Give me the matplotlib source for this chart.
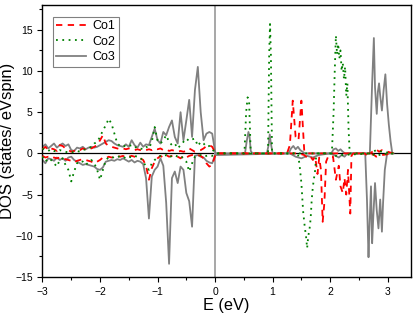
import numpy as np
import matplotlib
matplotlib.use("Agg")
import matplotlib.pyplot as plt
from matplotlib.ticker import MultipleLocator

plt.rcParams['font.family'] = ['Liberation Sans', 'DejaVu Sans']

# ---------------- data ----------------
# valence region grid (eV)
E_val = np.round(np.arange(-3.0, 0.0001, 0.05), 2)

co1_up_val = [0.5, 0.8, 0.4, 0.6, 0.5, 0.3, 1.0, 0.9, 0.6, 0.4, 0.2, 0.3, 0.5, 0.4, 0.6, 0.5,
              0.7, 0.6, 0.8, 1.0, 1.6, 2.2, 1.2, 0.9, 0.8, 0.7, 0.6, 0.5, 0.6, 0.5, 0.6, 0.5,
              0.4, 0.5, 0.4, 0.3, 0.4, 0.5, 0.4, 0.6, 0.5, 0.6, 0.4, 0.5, 0.3, 0.4, 0.3, 0.2,
              0.3, 0.2, 0.3, 0.6, 0.4, 0.2, 0.3, 0.4, 0.6, 0.9, 1.0, 0.8, 0.1]
co1_dn_val = [-0.3, -0.5, -0.4, -0.6, -0.5, -0.6, -0.5, -0.6, -0.7, -0.8, -0.9, -1.1, -0.9, -0.8,
              -0.7, -0.8, -0.9, -1.0, -1.2, -1.0, -0.8, -0.5, -0.6, -0.4, -0.5, -0.4, -0.3, -0.4,
              -0.3, -0.5, -0.4, -0.3, -0.4, -0.5, -0.6, -0.8, -1.5, -3.2, -1.8, -1.0, -0.6, -0.3,
              -0.5, -0.2, -0.4, -0.3, -0.2, -0.4, -0.6, -0.3, -0.5, -0.3, -0.2, -0.1, -0.2, -0.3,
              -0.6, -1.2, -1.6, -1.4, -0.3]
co2_up_val = [0.6, 0.4, 0.3, 0.5, 0.3, 0.2, 0.4, 0.3, 0.2, 0.1, 0.1, 0.2, 0.3, 0.2, 0.4, 0.5,
              0.6, 0.8, 1.2, 1.4, 2.0, 2.8, 3.4, 4.2, 3.6, 2.4, 1.2, 0.9, 1.0, 0.8, 0.9, 1.0,
              0.7, 0.8, 0.6, 0.5, 0.8, 0.6, 1.4, 3.2, 1.6, 1.2, 1.6, 2.2, 1.4, 1.0, 1.2, 0.6,
              1.0, 1.4, 1.8, 1.5, 1.7, 1.8, 0.9, 1.4, 1.2, 0.8, 0.9, 0.5, 0.1]
co2_dn_val = [-0.4, -1.0, -0.6, -0.8, -1.2, -1.6, -0.8, -0.6, -1.4, -2.0, -3.4, -2.2, -1.2, -0.9,
              -1.0, -1.4, -1.1, -0.8, -1.2, -2.0, -3.2, -2.0, -0.8, -0.5, -0.6, -0.4, -0.5, -0.3,
              -0.4, -0.6, -0.4, -0.5, -0.3, -0.4, -0.5, -1.0, -1.6, -2.0, -1.2, -0.8, -0.5, -0.3,
              -0.4, -0.2, -0.5, -0.3, -0.2, -0.4, -0.3, -0.6, -1.0, -2.2, -1.2, -0.4, -0.3, -0.2,
              -0.4, -0.3, -0.2, -0.3, -0.1]
co3_up_val = [0.8, 1.1, 0.6, 0.9, 1.2, 0.7, 1.0, 1.2, 0.9, 1.1, 0.4, 0.3, 0.7, 0.6, 0.8, 0.5,
              0.7, 0.8, 0.7, 0.8, 1.0, 1.2, 1.4, 1.6, 1.5, 1.2, 1.0, 0.9, 0.8, 1.1, 0.8, 1.6,
              1.0, 0.7, 1.3, 0.8, 1.1, 1.0, 2.0, 3.0, 1.6, 1.2, 2.6, 2.2, 3.2, 4.0, 2.0, 1.2,
              5.0, 1.6, 4.0, 6.5, 2.0, 7.7, 10.5, 5.0, 1.6, 2.4, 2.6, 2.4, 0.2]
co3_dn_val = [-0.8, -1.2, -0.6, -0.7, -0.9, -0.5, -0.8, -0.6, -0.9, -0.5, -0.4, -0.8, -1.0, -1.2,
              -1.4, -1.3, -1.4, -1.5, -1.6, -1.9, -2.0, -1.7, -1.0, -0.9, -0.8, -0.9, -0.7, -0.8,
              -0.6, -0.8, -1.0, -0.8, -1.1, -0.9, -1.0, -1.3, -3.0, -7.9, -2.8, -2.0, -1.6, -0.6,
              -1.5, -6.0, -13.4, -3.0, -2.2, -3.6, -1.6, -2.0, -4.8, -5.8, -8.9, -0.3, -0.2, -0.4,
              -0.5, -0.9, -1.1, -1.2, -0.2]

# conduction region (eV, DOS)
co1_up_E = [0.02, 0.5, 1.25, 1.30, 1.35, 1.40, 1.45, 1.50, 1.55, 1.60, 2.70, 2.75, 2.80, 2.85, 2.90, 3.10]
co1_up_c = [0, 0, 0, 1.0, 6.4, 2.0, 1.6, 6.4, 0.3, 0, 0, 0.3, 0.5, 0.2, 0.4, 0]
co1_dn_E = [0.02, 1.45, 1.55, 1.60, 1.65, 1.70, 1.74, 1.78, 1.81, 1.84, 1.87, 1.90, 1.93, 1.97,
            2.05, 2.10, 2.15, 2.18, 2.22, 2.25, 2.28, 2.31, 2.35, 2.37, 2.40, 2.60, 2.65, 2.75,
            2.80, 2.90, 3.10]
co1_dn_c = [0, 0, -0.2, -0.5, -0.3, -0.8, -0.4, -2.5, -0.5, -2.0, -8.3, -6.0, -1.0, -0.3,
            -0.4, -3.2, -1.5, -4.0, -4.8, -3.0, -5.0, -2.0, -7.3, -0.3, 0, 0, -0.3, -0.1,
            -0.4, -0.2, 0]
co2_up_E = [0.02, 0.51, 0.54, 0.565, 0.59, 0.62, 0.92, 0.94, 0.955, 0.97, 0.99,
            2.03, 2.06, 2.08, 2.10, 2.12, 2.14, 2.16, 2.18, 2.20, 2.22, 2.24, 2.26, 2.28,
            2.30, 2.32, 2.34, 2.70, 2.80, 2.90, 3.10]
co2_up_c = [0, 0, 5.0, 6.8, 6.5, 0, 0, 12.0, 15.7, 12.0, 0,
            0, 5.0, 10.0, 14.3, 12.0, 13.3, 11.5, 12.5, 10.0, 11.0, 9.0, 10.5, 7.0,
            8.5, 3.0, 0, 0, 0.4, 0.2, 0]
co2_dn_E = [0.02, 1.44, 1.47, 1.50, 1.53, 1.56, 1.58, 1.60, 1.62, 1.64, 1.66, 1.68, 1.70,
            1.72, 1.74, 1.76, 2.00, 2.10, 2.20, 2.70, 2.80, 2.90, 3.10]
co2_dn_c = [0, 0, -1.5, -3.6, -7.0, -9.0, -10.0, -11.5, -10.0, -9.3, -8.0, -5.6, -4.0,
            -3.0, -2.0, 0, 0, -0.3, -0.2, 0, -0.3, -0.1, 0]
co3_up_E = [0.02, 0.52, 0.55, 0.58, 0.60, 0.62, 0.65, 0.90, 0.93, 0.95, 0.97, 1.00,
            1.28, 1.32, 1.36, 1.40, 1.44, 1.48, 1.52, 1.56, 2.02, 2.06, 2.10, 2.14, 2.18,
            2.22, 2.26, 2.69, 2.73, 2.76, 2.78, 2.81, 2.83, 2.85, 2.87, 2.90, 2.93, 2.96,
            2.99, 3.02, 3.05, 3.08]
co3_up_c = [0, 0, 1.5, 2.6, 2.0, 0.3, 0, 0, 1.0, 2.3, 1.2, 0,
            0, 0.6, 0.9, 0.5, 0.8, 0.4, 0.2, 0, 0, 0.5, 0.6, 0.3, 0.5,
            0.2, 0, 0, 8.5, 14.0, 8.0, 4.8, 7.5, 8.5, 7.0, 5.2, 7.7, 9.6,
            6.0, 3.5, 1.5, 0]
co3_dn_E = [0.02, 1.30, 1.40, 1.50, 1.60, 1.70, 1.80, 2.00, 2.10, 2.15, 2.20, 2.25, 2.30,
            2.61, 2.64, 2.667, 2.68, 2.71, 2.73, 2.75, 2.78, 2.81, 2.84, 2.87, 2.90, 2.92,
            2.95, 2.99, 3.10]
co3_dn_c = [-0.2, 0, -0.4, -0.6, -0.3, -0.5, -0.2, 0, -0.3, -0.5, -0.2, -0.4, 0,
            0, -5.6, -12.6, -9.7, -4.0, -10.9, -7.7, -3.6, -6.9, -9.1, -5.6, -9.5, -6.0,
            -2.0, 0, 0]

labels = ['Co1', 'Co2', 'Co3']
colors = ['#ff0000', '#008000', '#808080']
styles = [(0, (3.5, 3)), (0, (1, 2.5)), '-']

series = [
    (co1_up_val, co1_dn_val, co1_up_E, co1_up_c, co1_dn_E, co1_dn_c),
    (co2_up_val, co2_dn_val, co2_up_E, co2_up_c, co2_dn_E, co2_dn_c),
    (co3_up_val, co3_dn_val, co3_up_E, co3_up_c, co3_dn_E, co3_dn_c),
]

# ---------------- plot ----------------
fig = plt.figure(figsize=(4.15, 3.17), dpi=100)
ax = fig.add_axes([0.1024, 0.1262, 0.8872, 0.8578])

ax.axhline(0, color='black', lw=0.9, zorder=1)
ax.axvline(0, color='#a0a0a0', lw=1.3, zorder=1)

handles = []
zorders = [3, 3, 2]
for (uv, dv, uE, uc, dE, dc), lab, col, ls, zo in zip(series, labels, colors, styles, zorders):
    Eu = np.concatenate([E_val, uE])
    Vu = np.concatenate([uv, uc])
    Ed = np.concatenate([E_val, dE])
    Vd = np.concatenate([dv, dc])
    h, = ax.plot(Eu, Vu, color=col, ls=ls, lw=1.3, label=lab, zorder=zo)
    ax.plot(Ed, Vd, color=col, ls=ls, lw=1.3, zorder=zo)
    handles.append(h)

ax.set_xlim(-3, 3.4)
ax.set_ylim(-15, 18)
ax.xaxis.set_major_locator(MultipleLocator(1))
ax.xaxis.set_minor_locator(MultipleLocator(0.5))
ax.yaxis.set_major_locator(MultipleLocator(5))
ax.yaxis.set_minor_locator(MultipleLocator(2.5))
ax.tick_params(which='both', direction='out', top=False, right=False, labelsize=7.5, width=0.8)
ax.tick_params(which='major', length=3.5)
ax.tick_params(which='minor', length=2)
for s in ax.spines.values():
    s.set_linewidth(1.0)

ax.set_xlabel('E (eV)', fontsize=11.7, labelpad=1)
ax.set_ylabel('DOS (states/ eVspin)', fontsize=12, labelpad=0)

leg = ax.legend(handles=handles, loc='upper left', bbox_to_anchor=(0.028, 0.957),
                borderaxespad=0, fontsize=9, frameon=True, fancybox=False,
                edgecolor='#808080', framealpha=1, handlelength=2.4,
                handletextpad=0.55, labelspacing=0.3, borderpad=0.25)
leg.get_frame().set_linewidth(0.8)

fig.savefig('out.png', dpi=100)
